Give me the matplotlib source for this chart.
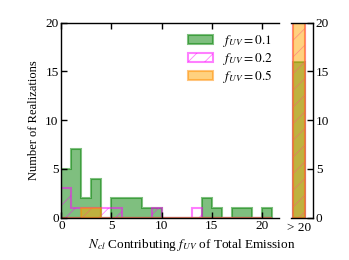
import numpy as np
import matplotlib
matplotlib.use("Agg")
import matplotlib.pyplot as plt

plt.rcParams['font.family'] = ['Liberation Serif', 'DejaVu Serif']
plt.rcParams['mathtext.fontset'] = 'stix'
plt.rcParams['hatch.linewidth'] = 0.6

# bin edges (width 1) for N_cl = 0..21
edges = list(range(0, 22))

# counts per bin, f_UV = 0.1
counts_01 = [5, 7, 2, 4, 0, 2, 2, 2, 1, 1, 0, 0, 0, 0, 2, 1, 0, 1, 1, 0, 1]
# f_UV = 0.2
counts_02 = [3, 1, 1, 1, 1, 1, 0, 0, 0, 1, 0, 0, 0, 1, 0, 0, 0, 0, 0, 0, 0]
# f_UV = 0.5
counts_05 = [0, 0, 1, 1, 0, 0, 0, 0, 0, 0, 0, 0, 0, 0, 0, 0, 0, 0, 0, 0, 0]

# realizations with > 20 clusters
over_01 = 16
over_02 = 20
over_05 = 20

labels = [r'$f_{UV} = 0.1$', r'$f_{UV} = 0.2$', r'$f_{UV} = 0.5$']

fig = plt.figure(figsize=(3.49, 2.6), dpi=100)
ax = fig.add_axes([0.176, 0.163, 0.624, 0.75])
ax2 = fig.add_axes([0.834, 0.163, 0.063, 0.75])

centers = np.array(edges[:-1]) + 0.5
ax.hist(centers, bins=edges, weights=counts_01, histtype='stepfilled',
        facecolor='green', edgecolor='green', alpha=0.5, lw=1.5, label=labels[0])
ax.hist(centers, bins=edges, weights=counts_02, histtype='stepfilled',
        facecolor='none', edgecolor='magenta', alpha=0.5, lw=1.5, hatch='//', label=labels[1])
ax.hist(centers, bins=edges, weights=counts_05, histtype='stepfilled',
        facecolor='orange', edgecolor='darkorange', alpha=0.5, lw=1.5, label=labels[2])

ax2.hist([0.5], bins=[0, 1], weights=[over_01], histtype='stepfilled',
         facecolor='green', edgecolor='green', alpha=0.5, lw=1.5)
ax2.hist([0.5], bins=[0, 1], weights=[over_02], histtype='stepfilled',
         facecolor='none', edgecolor='magenta', alpha=0.5, lw=1.5, hatch='//')
ax2.hist([0.5], bins=[0, 1], weights=[over_05], histtype='stepfilled',
         facecolor='orange', edgecolor='darkorange', alpha=0.5, lw=1.5)

ax.set_xlim(0, 21.75)
ax.set_ylim(0, 20)
ax.set_xticks([0, 5, 10, 15, 20])
ax.set_yticks([0, 5, 10, 15, 20])
ax.spines['right'].set_visible(False)
ax.tick_params(direction='in', top=True, right=False, length=4, width=1, labelsize=9.5, pad=2)
ax.set_xlabel(r'$N_{cl}$ Contributing $f_{UV}$ of Total Emission', fontsize=9.5, labelpad=2)
ax.xaxis.set_label_coords(0.6, -0.1)
ax.set_ylabel('Number of Realizations', fontsize=9)

ax2.set_xlim(-0.14, 1.65)
ax2.set_ylim(0, 20)
ax2.set_xticks([0.5])
ax2.set_xticklabels(['> 20'])
ax2.set_yticks([0, 5, 10, 15, 20])
ax2.spines['left'].set_visible(False)
ax2.yaxis.tick_right()
ax2.tick_params(axis='y', direction='in', left=False, right=True, length=4, width=1, labelsize=9.5, pad=2)
ax2.tick_params(axis='x', length=0, labelsize=9.5, pad=3)

ax.legend(loc='upper right', bbox_to_anchor=(1.02, 1.0), frameon=False, fontsize=9.5,
          handlelength=1.9, handleheight=0.7, borderaxespad=0.4, labelspacing=0.12,
          handletextpad=0.8)

for a in (ax, ax2):
    for s in a.spines.values():
        s.set_linewidth(1)

plt.savefig('out.png', dpi=100)
